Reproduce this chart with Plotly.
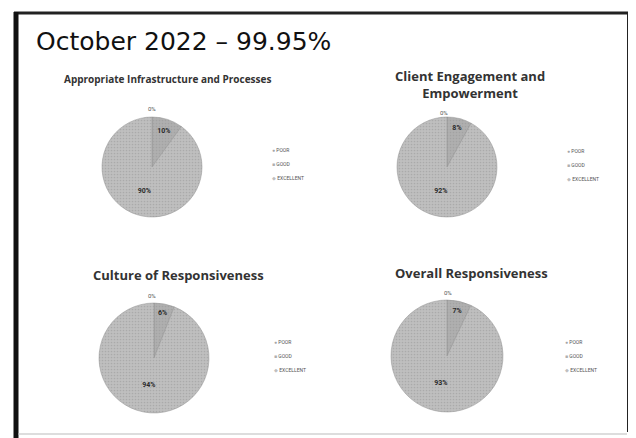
import plotly.graph_objects as go

W, H = 636, 438
# the page body has an 8px margin, so shift reference pixel positions
OX, OY = 8, 8

# Data
categories = ["POOR", "GOOD", "EXCELLENT"]
chart_titles = [
    "Appropriate Infrastructure and Processes",
    "Client Engagement and<br>Empowerment",
    "Culture of Responsiveness",
    "Overall Responsiveness",
]
poor = [0, 0, 0, 0]
good = [10, 8, 6, 7]
excellent = [90, 92, 94, 93]
main_title = "October 2022 – 99.95%"


# layout helpers (reference pixel positions -> paper coords)
def px(x):
    return (x - OX) / W


def py(y):
    return 1 - (y - OY) / H


# pie centre (x, y) and radius in pixels
pies = [(152, 167, 50), (447, 167, 50), (154, 358, 55), (447, 356, 56)]
zero_pos = [(152, 108), (444, 112), (152, 295), (448, 292)]
title_pos = [(167, 79, 10), (470, 84, 13), (178, 275, 13), (472, 273, 13)]
legend_pos = [(270, 150), (565, 151), (272, 342), (563, 342)]
legend_step = 14

slice_colors = ["#a4a4a4", "#afafaf", "#bfbfbf"]
legend_marks = ["●", "■", "◆"]

fig = go.Figure()
annotations = []


def add_text(text, x, y, size, family="Roboto", color="#333", xanchor="center"):
    annotations.append(
        dict(
            text=text, x=px(x), y=py(y), xref="paper", yref="paper",
            xanchor=xanchor, yanchor="middle", showarrow=False,
            font=dict(family=family, size=size, color=color),
        )
    )


for i in range(4):
    cx, cy, r = pies[i]
    vals = [poor[i], good[i], excellent[i]]
    fig.add_trace(
        go.Pie(
            labels=categories,
            values=vals,
            sort=False,
            direction="clockwise",
            rotation=0,
            domain=dict(x=[px(cx - r), px(cx + r)], y=[py(cy + r), py(cy - r)]),
            marker=dict(
                colors=slice_colors,
                line=dict(color="#909090", width=0.5),
                pattern=dict(
                    shape=".", size=3, solidity=0.25,
                    fgcolor="#959595", fillmode="overlay",
                ),
            ),
            texttemplate="<b>%{value}%</b>",
            textposition="inside",
            insidetextorientation="horizontal",
            textfont=dict(family="Roboto", size=7, color="#2a2a2a"),
            showlegend=False,
            hoverinfo="label+value",
        )
    )
    # the zero slice label sits just above the pie
    zx, zy = zero_pos[i]
    add_text(f"{poor[i]}%", zx, zy, 6, color="#555")

    tx, ty, ts = title_pos[i]
    add_text(f"<b>{chart_titles[i]}</b>", tx, ty, ts, family="Open Sans")

    # small legend beside each pie
    lx, ly = legend_pos[i]
    for k, cat in enumerate(categories):
        add_text(
            f'<span style="color:{slice_colors[k]}">{legend_marks[k]}</span> {cat}',
            lx, ly + k * legend_step, 5, color="#555", xanchor="left",
        )

add_text(main_title, 34, 42, 25, family="DejaVu Sans", color="#111", xanchor="left")

# scanned slide frame
shapes = [
    dict(type="line", xref="paper", yref="paper", x0=px(14), x1=px(630),
         y0=py(13), y1=py(13), line=dict(color="#222", width=3)),
    dict(type="line", xref="paper", yref="paper", x0=px(16), x1=px(16),
         y0=py(12), y1=py(446), line=dict(color="#111", width=5)),
    dict(type="line", xref="paper", yref="paper", x0=px(629), x1=px(629),
         y0=py(12), y1=py(432), line=dict(color="#222", width=4)),
    dict(type="line", xref="paper", yref="paper", x0=px(18), x1=px(627),
         y0=py(434), y1=py(434), line=dict(color="#bbb", width=1)),
]

fig.update_layout(
    width=W,
    height=H,
    margin=dict(l=0, r=0, t=0, b=0),
    paper_bgcolor="white",
    plot_bgcolor="white",
    showlegend=False,
    annotations=annotations,
    shapes=shapes,
)

fig.write_html("out.html")
